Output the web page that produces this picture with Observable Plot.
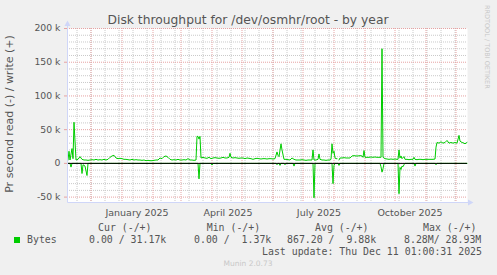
<!DOCTYPE html>
<html><head><meta charset="utf-8">
<script src="https://cdn.jsdelivr.net/npm/d3@7"></script>
<script src="https://cdn.jsdelivr.net/npm/@observablehq/plot@0.6"></script>
<style>
html,body{margin:0;padding:0;background:#f0f0f0;}
#chart{width:497px;height:275px;}
svg text{white-space:pre;}
</style></head><body><div id="chart"></div>
<script>
const title = "Disk throughput for /dev/osmhr/root - by year";
const yAxisTitle = "Pr second read (-) / write (+)";
const watermark = "RRDTOOL / TOBI OETIKER";
const seriesName = "Bytes";
const legendHeaders = ["Cur (-/+)", "Min (-/+)", "Avg (-/+)", "Max (-/+)"];
const legendValues = ["0.00 / 31.17k", "0.00 /  1.37k", "867.20 /  9.88k", "8.28M/ 28.93M"];
const lastUpdate = "Last update: Thu Dec 11 01:00:31 2025";
const footer = "Munin 2.0.73";

const yMajorTicks = [-50, 0, 50, 100, 150, 200];
const yMinorTicks = [-40,-30,-20,-10,10,20,30,40,60,70,80,90,110,120,130,140,160,170,180,190];
const xLabelDates = ["2025-01-16", "2025-04-17", "2025-07-17", "2025-10-16"];
const seriesStart = "2024-11-08";

// write (+) series: day offset from seriesStart, value in k bytes/s
const writeDays = [
  0,1,2,4,5,6,8,10,12,14,
  16,18,20,22,24,26,28,30,32,34,
  36,38,40,42,44,46,48,50,52,54,
  56,58,60,62,64,66,68,70,72,74,
  76,78,80,82,84,86,88,90,92,94,
  96,98,100,102,104,106,108,110,112,114,
  116,118,120,122,124,126,128,129,130,131,
  132,133,135,137,139,141,143,145,147,149,
  151,153,155,157,159,161,162,163,165,167,
  169,171,173,175,177,179,181,183,185,187,
  189,191,193,195,197,199,201,203,205,207,
  209,210,211,213,214,216,218,220,222,224,
  226,228,230,232,234,236,238,240,242,244,
  245,246,248,250,251,252,254,256,258,260,
  262,263,264,265,266,267,268,269,270,271,
  272,274,276,278,280,282,284,286,288,290,
  292,294,295,296,297,299,301,303,305,307,
  309,311,313,314,315,317,319,321,323,325,
  327,329,330,331,332,333,334,336,337,339,
  341,343,345,346,347,349,351,353,355,357,
  359,361,363,365,367,368,369,371,373,375,
  377,379,381,383,385,387,389,391,392,394,
  396,397,399
];
const writeK = [
  5,18,5,22,7,61,5,6,10,6,
  5,5,4.5,5,5.5,5,6,5,5.5,5,
  6,5,6,9,11,12,8,7,7.5,7,
  6,6,5.5,5,6,5,5.5,5,5,4.5,
  5,4,4.5,4,4,4.5,5,5,8,7,
  10,11,9,6,5,5.5,5,6,5,5,
  5.5,5,7,5,5,4.5,5,40,40,36,
  40,8,9,8,7.5,9,7,8,8.5,8,
  7.5,8,9,8,8,9,15,9,8,8.5,
  8,7.5,8,8,7,8,7.5,7,6,7,
  7.5,7,6.5,7,7,6.5,7,7,6.5,7,
  17,12,10,29,20,6,6,5.5,5,8,
  6,5,5,5,5.5,5,4.5,5,5,5,
  20,5,5,6,14,6,5,5,4.5,5,
  5,6,29,15,18,8,7,7,null,5,
  8,8,8.5,8,8,8,11,11.5,11,11,
  11.5,11,9,19,9,9,9,9.5,9,9.5,
  9,9,9,170,9,7,6.5,6,6.5,6,
  6.5,6,6,20,8,11,7,10,6,6,
  5.5,6,6,9,6,5.5,6,6,5.5,6,
  6,6,6,6,6.5,24,31,30,32,30,
  31,34,30,31,30,31,30,41.5,33,31,
  30,29,31
];
// read (-) series, plotted below zero
const readDays = [
  0,2,3,4,13,14,15,17,19,20,
  130,131,132,143,144,145,208,209,210,211,
  212,213,216,217,218,225,226,227,245,246,
  247,264,265,266,267,270,271,272,312,313,
  314,315,316,330,331,332,333,334,335,336,
  337,346,347,348,367,368,369,399
];
const readK = [
  0,0,-5.5,0,0,-15,-2,-4,-18,0,
  0,-23,0,0,-2.5,0,0,-2,0,0,
  -3,0,0,-2,0,0,-4,0,0,-51,
  0,0,-30,-3,0,0,-3,0,0,-5,
  -13,-8,0,0,-45,-6,-9,-4,-5,-2,
  0,0,-4,0,0,-2,0,0
];

const start = new Date(seriesStart + "T00:00:00Z");
const writeData = writeDays.map((d, i) => ({date: d3.utcDay.offset(start, d), v: writeK[i]}));
const readData = readDays.map((d, i) => ({date: d3.utcDay.offset(start, d), v: readK[i]}));
const xDomain = [new Date("2024-11-07T12:00:00Z"), new Date("2025-12-12T12:00:00Z")];
const monthStarts = d3.utcMonth.range(new Date("2024-12-01T00:00:00Z"), xDomain[1]);
const minorX = d3.utcDay.range(new Date("2024-11-17T00:00:00Z"), xDomain[1], 14);
const labelDates = xLabelDates.map(s => new Date(s + "T00:00:00Z"));

const green = "#00cc00";
const majorColor = "#e6a3a3";
const minorColor = "#c9c9c9";
const axisColor = "#cfd6f8";
const textColor = "#555555";

const chart = Plot.plot({
  width: 497, height: 275,
  marginLeft: 67, marginRight: 30, marginTop: 28, marginBottom: 73,
  style: {background: "#f0f0f0", fontFamily: "DejaVu Sans", color: textColor, overflow: "visible"},
  x: {type: "utc", domain: xDomain},
  y: {domain: [-58, 200]},
  marks: [
    Plot.frame({fill: "white", stroke: null}),
    Plot.ruleY(yMinorTicks, {stroke: minorColor, strokeDasharray: "1,1"}),
    Plot.ruleX(minorX, {stroke: minorColor, strokeDasharray: "1,1"}),
    Plot.ruleY(yMajorTicks, {stroke: majorColor, strokeDasharray: "1,1"}),
    Plot.ruleX(monthStarts, {stroke: majorColor, strokeDasharray: "1,1"}),
    Plot.line(readData, {x: "date", y: "v", stroke: green, strokeWidth: 1}),
    Plot.line(writeData, {x: "date", y: "v", stroke: green, strokeWidth: 1}),
    Plot.ruleY([0], {stroke: "black", strokeWidth: 1}),
    Plot.axisY(yMajorTicks, {tickSize: 3, tickPadding: 4, stroke: majorColor, fontSize: 9.3,
      tickFormat: d => d === 0 ? "0" : d + " k", label: null}),
    Plot.axisX(labelDates, {tickSize: 0, tickPadding: 7, fontSize: 9.5,
      tickFormat: d3.utcFormat("%B %Y"), label: null})
  ]
});
document.getElementById("chart").appendChild(chart);

const svg = d3.select(chart);
// axis lines with arrows
const g = svg.append("g");
g.append("line").attr("x1", 67.5).attr("x2", 469).attr("y1", 202.5).attr("y2", 202.5).attr("stroke", axisColor);
g.append("path").attr("d", "M468,199.5L473.5,202.5L468,205.5Z").attr("fill", axisColor);
g.append("line").attr("x1", 67.5).attr("x2", 67.5).attr("y1", 202.5).attr("y2", 25).attr("stroke", axisColor);
g.append("path").attr("d", "M64.5,26L67.5,20.5L70.5,26Z").attr("fill", axisColor);

function addText(x, y, str, opts) {
  return svg.append("text").attr("x", x).attr("y", y)
    .attr("text-anchor", opts.anchor || "start")
    .attr("font-family", opts.family || "DejaVu Sans")
    .attr("font-size", opts.size)
    .attr("fill", opts.fill || textColor)
    .attr("transform", opts.transform || null)
    .text(str);
}

// titles
addText(248, 24, title, {anchor: "middle", size: 12.3});
addText(0, 0, yAxisTitle, {anchor: "middle", size: 11, transform: "translate(13,114) rotate(-90)"});
addText(0, 0, watermark, {anchor: "start", size: 6.5, fill: "#c8c8c8", transform: "translate(485,5) rotate(90)"});

// legend
const mono = "DejaVu Sans Mono";
const headerX = [98, 206.7, 315, 423];
const valueX = [89, 194, 287, 404];
legendHeaders.forEach((h, i) => addText(headerX[i], 231, h, {family: mono, size: 9.9}));
svg.append("rect").attr("x", 14).attr("y", 237).attr("width", 6).attr("height", 6).attr("fill", green);
addText(27, 243, seriesName, {family: mono, size: 9.9});
legendValues.forEach((v, i) => addText(valueX[i], 243, v, {family: mono, size: 9.9}));
addText(262, 255, lastUpdate, {family: mono, size: 9.9});
addText(248, 266, footer, {anchor: "middle", size: 7.5, fill: "#c8c8c8"});
</script></body></html>
